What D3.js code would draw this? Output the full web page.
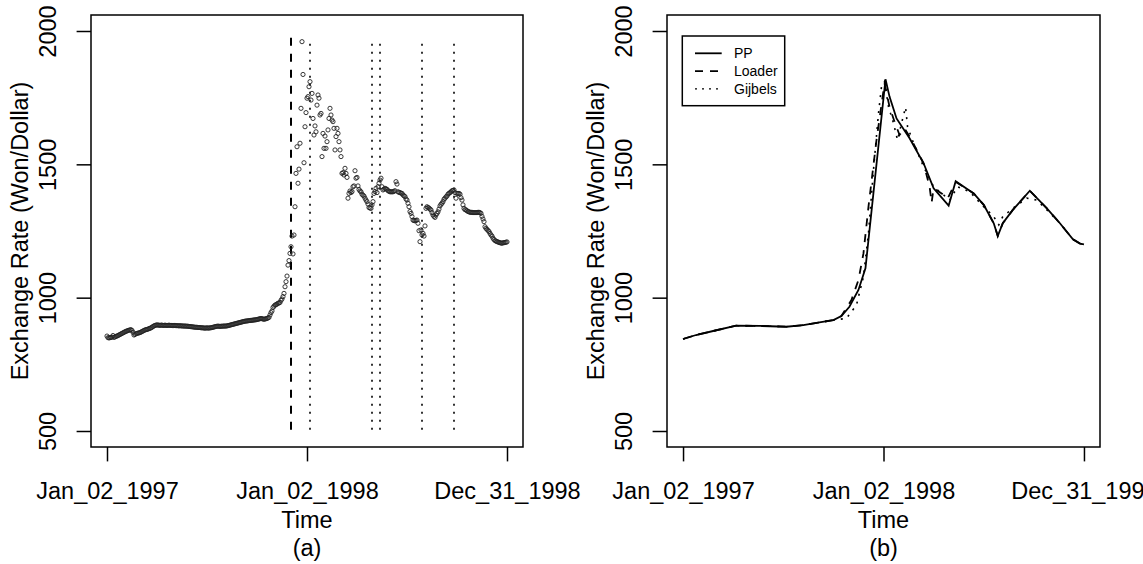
<!DOCTYPE html>
<html><head><meta charset="utf-8">
<script src="https://cdn.jsdelivr.net/npm/d3@7"></script>
<style>
body{margin:0;background:#fff}
svg{display:block}
text{font-family:"Liberation Sans",Arial,Helvetica,sans-serif;fill:#000}
</style>
</head><body>
<svg id="c" width="1143" height="564"></svg>
<script>
// ---------- data ----------
// daily Won/Dollar rate, trading-day order
const rate1997 = [
856,850,849,850,851,852,858,851,853,855,
856,858,860,862,864,866,868,870,872,874,
875,877,878,879,880,877,870,860,862,865,
866,867,868,869,871,873,875,877,879,880,
881,882,884,885,887,889,892,894,896,897,
898,897,897,896,897,897,896,896,897,896,
896,896,897,896,896,896,895,896,896,895,
895,895,894,895,894,894,894,893,894,893,
893,893,892,892,891,891,890,890,889,889,
889,888,888,888,887,887,887,886,886,886,
887,886,886,887,887,888,889,890,891,892,
893,893,893,892,893,893,893,894,893,894,
894,895,896,897,898,899,900,901,902,903,
904,905,906,907,908,909,910,911,912,912,
913,913,914,914,915,915,916,916,917,917,
918,919,920,921,922,921,920,919,920,921,
922,924,926,935,944,950,963,968,972,974,
976,979,980,982,990,995,1004,1016,
1041,1060,1081,1122,1139,1166,1191,1231,1164,1235,
1341,1466,1566,1429,1482,1579,1710,1960,1837,1506,
1641,1694
];
const rate1998 = [
1748,1754,1791,1810,1741,1766,1672,1610,1644,1622,
1722,1760,1748,1685,1691,1529,1616,1560,1606,1560,
1585,1629,1672,1710,1685,1666,1660,1635,1554,1604,
1635,1616,1585,1554,1529,1466,1469,1460,1485,1466,
1451,1373,1391,1400,1394,1398,1416,1419,1476,1448,
1451,1419,
1406,1400,1397,1388,1384,1381,1373,1366,1360,1351,
1338,1336,1335,1348,1360,1391,1398,1410,1394,1416,
1429,1441,1448,1416,1404,1407,1410,1408,1406,1401,
1399,1397,1397,1397,1397,1399,1401,1435,1426,1397,
1395,1394,1392,1391,1385,1382,1379,1370,1366,1354,
1341,1323,1316,1304,1291,1289,1288,1290,1291,1279,
1251,1210,1254,1235,1241,1231,1269,1335,1341,1338,
1336,1332,1329,1319,1310,1305,1301,1310,1316,1322,
1332,1344,1350,1354,1360,1369,1373,1378,1381,1388,
1391,1394,1397,1401,1402,1404,1394,1373,1391,1391,
1391,1388,1375,1366,1348,1335,1330,1329,1326,1323,
1322,1320,1320,1320,1319,1319,1319,1319,1319,1320,
1320,1319,1316,1305,1295,1285,1266,1260,1256,1252,
1248,1241,1235,1231,1223,1218,1214,1212,1210,1209,
1207,1206,1205,1204,1206,1206,1207,1208,1209
];
const tickLabels = ["Jan_02_1997", "Jan_02_1998", "Dec_31_1998"];
const yTicks = [500, 1000, 1500, 2000];
const yRange = [500, 2000];
// change points (trading-day index)
const changeDashed = [184];
const changeDotted = [203, 265, 273, 315, 347];
// fitted curves (trading-day index, value)
const ppIndex = [0,13,30,53,77,103,120,136,150,158,166,175,182,202,206,213,226,240,250,265,272,290,300,310,314,319,329,346,363,376,389,396,400];
const ppValue = [845,860,875,895,894,891,897,907,916,931,966,1029,1110,1819,1754,1672,1598,1504,1410,1345,1437,1391,1348,1279,1231,1279,1329,1401,1335,1279,1219,1203,1200];
const loaderIndex = [0,13,30,53,77,103,120,136,150,158,168,175,180,185,193,201,206,211,216,221,227,240,246,248,250,258,264,269,273,290,300,310,314,319,329,346,363,376,389,396,400];
const loaderValue = [845,860,875,895,894,891,897,907,916,931,991,1066,1166,1341,1591,1804,1716,1660,1610,1635,1598,1504,1416,1356,1410,1391,1372,1410,1432,1391,1348,1279,1231,1279,1329,1401,1335,1279,1219,1203,1200];
const gijbelsIndex = [0,13,30,53,77,103,120,136,150,163,173,180,185,190,195,198,201,205,210,214,218,222,224,230,240,250,258,266,274,286,300,310,315,319,329,343,353,363,376,389,396,400];
const gijbelsValue = [845,860,875,895,894,891,897,907,916,922,972,1079,1241,1479,1691,1791,1810,1716,1654,1591,1654,1714,1641,1579,1491,1416,1391,1366,1416,1397,1341,1304,1273,1304,1335,1373,1366,1329,1279,1219,1203,1200];
const legendLabels = ["PP", "Loader", "Gijbels"];
const panelLabels = ["(a)", "(b)"];

// ---------- drawing ----------
const svg = d3.select("#c");
const rates = rate1997.concat(rate1998);
const n = rates.length;
const tickIdx = [0, rate1997.length, n - 1];
const FS = 23.5;
const LH = 28.8;          // one margin line
const TICK = LH / 2;
const dashPat = "8,8", dotPat = "2,6";

function makePanel(left, right, top, bottom) {
  const pad = 0.04 * (n - 1);
  const x = d3.scaleLinear().domain([-pad, n - 1 + pad]).range([left, right]);
  const ypad = 0.04 * (yRange[1] - yRange[0]);
  const y = d3.scaleLinear().domain([yRange[0] - ypad, yRange[1] + ypad]).range([bottom, top]);
  const g = svg.append("g");
  g.append("rect").attr("x", left).attr("y", top).attr("width", right - left).attr("height", bottom - top)
    .attr("fill", "none").attr("stroke", "#000").attr("stroke-width", 1.5);
  const ya = g.append("g").attr("transform", `translate(${left},0)`)
    .call(d3.axisLeft(y).tickValues(yTicks).tickSize(TICK).tickFormat(d3.format("d")));
  ya.select(".domain").remove();
  ya.selectAll(".tick line").attr("stroke", "#000").attr("stroke-width", 1.5);
  ya.selectAll(".tick text").attr("x", null).attr("dy", null)
    .attr("transform", `translate(${-1.2 * LH},0) rotate(-90)`)
    .attr("text-anchor", "middle").attr("font-size", FS).attr("fill", "#000")
    .style("font-family", '"Liberation Sans",Arial,sans-serif');
  const xa = g.append("g").attr("transform", `translate(0,${bottom})`)
    .call(d3.axisBottom(x).tickValues(tickIdx).tickSize(TICK).tickFormat((d, i) => tickLabels[i]));
  xa.select(".domain").remove();
  xa.selectAll(".tick line").attr("stroke", "#000").attr("stroke-width", 1.5);
  xa.selectAll(".tick text").attr("y", 1.8 * LH).attr("dy", null)
    .attr("font-size", FS).attr("fill", "#000")
    .style("font-family", '"Liberation Sans",Arial,sans-serif');
  const cx = (left + right) / 2, cy = (top + bottom) / 2;
  g.append("text").attr("transform", `translate(${left - 2.2 * LH},${cy}) rotate(-90)`)
    .attr("text-anchor", "middle").attr("font-size", FS).text("Exchange Rate (Won/Dollar)");
  g.append("text").attr("x", cx).attr("y", bottom + 2.8 * LH).attr("text-anchor", "middle").attr("font-size", FS).text("Time");
  return {g, x, y, cx, bottom};
}

// Panel (a)
const A = makePanel(91, 523, 15, 447);
A.g.append("text").attr("x", A.cx).attr("y", A.bottom + 3.8 * LH).attr("text-anchor", "middle").attr("font-size", FS).text(panelLabels[0]);
A.g.selectAll("line.cpd").data(changeDashed).join("line")
  .attr("x1", d => A.x(d)).attr("x2", d => A.x(d))
  .attr("y1", A.y(505)).attr("y2", A.y(1975))
  .attr("stroke", "#000").attr("stroke-width", 2).attr("stroke-dasharray", dashPat);
A.g.selectAll("line.cpt").data(changeDotted).join("line")
  .attr("x1", d => A.x(d)).attr("x2", d => A.x(d))
  .attr("y1", A.y(505)).attr("y2", A.y(1960))
  .attr("stroke", "#000").attr("stroke-width", 1.6).attr("stroke-dasharray", dotPat);
A.g.append("g").selectAll("circle").data(rates).join("circle")
  .attr("cx", (d, i) => A.x(i)).attr("cy", d => A.y(d)).attr("r", 2.1)
  .attr("fill", "none").attr("stroke", "#222").attr("stroke-width", 0.9);

// Panel (b)
const B = makePanel(667, 1100, 15, 447);
B.g.append("text").attr("x", B.cx).attr("y", B.bottom + 3.8 * LH).attr("text-anchor", "middle").attr("font-size", FS).text(panelLabels[1]);
const curves = [
  {idx: gijbelsIndex, val: gijbelsValue, dash: dotPat, w: 1.6},
  {idx: loaderIndex, val: loaderValue, dash: dashPat, w: 1.8},
  {idx: ppIndex, val: ppValue, dash: null, w: 1.8}
];
curves.forEach(c => {
  const line = d3.line().x((d, i) => B.x(c.idx[i])).y(d => B.y(d));
  B.g.append("path").attr("d", line(c.val)).attr("fill", "none").attr("stroke", "#000")
    .attr("stroke-width", c.w).attr("stroke-dasharray", c.dash);
});
const lg = B.g.append("g");
lg.append("rect").attr("x", 682.3).attr("y", 36).attr("width", 102.4).attr("height", 69.7)
  .attr("fill", "#fff").attr("stroke", "#000").attr("stroke-width", 1.5);
const legDash = [null, "8,7", "2,5"];
legendLabels.forEach((lab, i) => {
  const yy = 53.3 + i * 17.8;
  lg.append("line").attr("x1", 695).attr("x2", 721.7).attr("y1", yy).attr("y2", yy)
    .attr("stroke", "#000").attr("stroke-width", i === 2 ? 1.4 : 1.8).attr("stroke-dasharray", legDash[i]);
  lg.append("text").attr("x", 734).attr("y", yy + 5).attr("font-size", 14).text(lab);
});
</script>
</body></html>
